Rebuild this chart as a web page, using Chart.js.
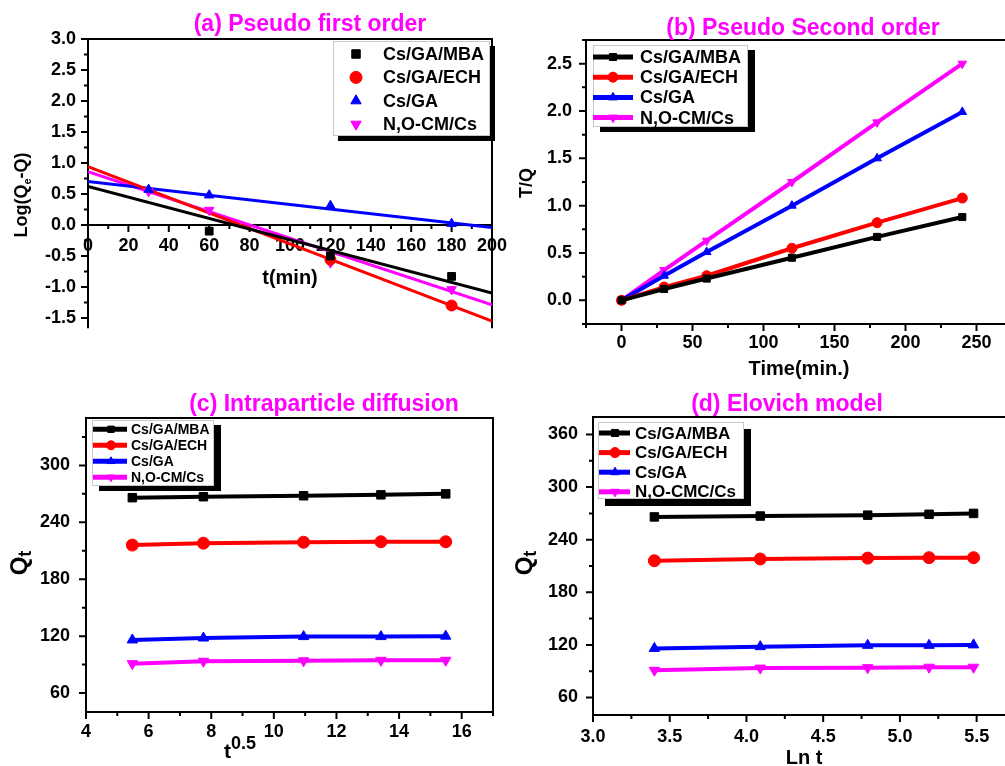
<!DOCTYPE html>
<html>
<head>
<meta charset="utf-8">
<script src="https://cdn.jsdelivr.net/npm/chart.js@4.4.1/dist/chart.umd.min.js"></script>
<style>
  html, body { margin: 0; padding: 0; background: #fff; }
  #page { position: relative; width: 1005px; height: 766px; overflow: hidden; background: #fff;
          font-family: "Liberation Sans", Arial, sans-serif; }
  .panel { position: absolute; }
  .ttl { position: absolute; transform: translate(-50%, -50%); white-space: nowrap;
         color: #ff00ff; font-weight: bold; font-size: 23px; }
</style>
</head>
<body>
<div id="page">
  <div class="panel" style="left:500px;top:0px"><canvas id="chartB"></canvas></div>
  <div class="panel" style="left:500px;top:380px"><canvas id="chartD"></canvas></div>
  <div class="panel" style="left:0px;top:0px"><canvas id="chartA"></canvas></div>
  <div class="panel" style="left:0px;top:380px"><canvas id="chartC"></canvas></div>

  <div class="ttl" style="left:310px;top:23px">(a) Pseudo first order</div>
  <div class="ttl" style="left:803px;top:27px">(b) Pseudo Second order</div>
  <div class="ttl" style="left:324px;top:403px">(c) Intraparticle diffusion</div>
  <div class="ttl" style="left:787px;top:403px">(d) Elovich model</div>
</div>

<script>
// ---- data ----
const names = ["Cs/GA/MBA", "Cs/GA/ECH", "Cs/GA", "N,O-CM/Cs"];
const namesElovich = ["Cs/GA/MBA", "Cs/GA/ECH", "Cs/GA", "N,O-CMC/Cs"];

// (a) pseudo first order, measured points
const pfoTimeMBA = [60, 120, 180];
const pfoMBA = [-0.10, -0.50, -0.83];
const pfoTimeECH = [120, 180];
const pfoECH = [-0.56, -1.30];
const pfoTimeGA = [30, 60, 120, 180];
const pfoGA = [0.57, 0.48, 0.31, 0.02];
const pfoTimeNOCM = [30, 60, 120, 180];
const pfoNOCM = [0.54, 0.24, -0.61, -1.04];
// (a) fitted lines (ends)
const pfoFitTime = [0, 200];
const pfoFitMBA = [0.62, -1.10];
const pfoFitECH = [0.94, -1.55];
const pfoFitGA = [0.70, -0.04];
const pfoFitNOCM = [0.86, -1.29];

// (b) pseudo second order
const psoTime = [0, 30, 60, 120, 180, 240];
const psoMBA = [0, 0.12, 0.23, 0.45, 0.67, 0.88];
const psoECH = [0, 0.14, 0.26, 0.55, 0.82, 1.08];
const psoGA = [0, 0.26, 0.51, 1.00, 1.50, 1.99];
const psoNOCM = [0, 0.32, 0.63, 1.25, 1.88, 2.50];

// (c) intraparticle diffusion / (d) Elovich
const sqrtTime = [5.48, 7.75, 10.95, 13.42, 15.49];
const lnTime = [3.40, 4.09, 4.79, 5.19, 5.48];
const qtMBA = [266, 267, 268, 269, 270];
const qtECH = [216, 218, 219, 219.5, 219.5];
const qtGA = [116, 118, 119.5, 119.5, 120];
const qtNOCM = [91, 93.5, 94, 94.5, 94.5];

// ticks
const ticksAx = [0, 20, 40, 60, 80, 100, 120, 140, 160, 180, 200];
const minorAx = [10, 30, 50, 70, 90, 110, 130, 150, 170, 190];
const ticksAy = [-1.5, -1.0, -0.5, 0, 0.5, 1.0, 1.5, 2.0, 2.5, 3.0];
const minorAy = [-1.25, -0.75, -0.25, 0.25, 0.75, 1.25, 1.75, 2.25, 2.75];
const ticksBx = [0, 50, 100, 150, 200, 250];
const minorBx = [-25, 25, 75, 125, 175, 225, 275];
const ticksBy = [0, 0.5, 1.0, 1.5, 2.0, 2.5];
const minorBy = [-0.25, 0.25, 0.75, 1.25, 1.75, 2.25, 2.75];
const ticksCx = [4, 6, 8, 10, 12, 14, 16];
const minorCx = [5, 7, 9, 11, 13, 15, 17];
const ticksCy = [60, 120, 180, 240, 300];
const minorCy = [90, 150, 210, 270, 330];
const ticksDx = [3.0, 3.5, 4.0, 4.5, 5.0, 5.5];
const minorDx = [3.25, 3.75, 4.25, 4.75, 5.25, 5.75];
const ticksDy = [60, 120, 180, 240, 300, 360];
const minorDy = [90, 150, 210, 270, 330];

// ---- styles ----
const FONT = '"Liberation Sans", Arial, sans-serif';
const colors = ["#000000", "#ff0000", "#0000ff", "#ff00ff"];
const shapes = ["rect", "circle", "triangle", "triangle"];
const turns = [0, 0, 0, 180];

const pts = (xs, ys) => xs.map((x, i) => ({ x, y: ys[i] }));

function marker(ctx, style, rot, r, x, y, color) {
  ctx.save();
  ctx.fillStyle = color;
  ctx.strokeStyle = color;
  ctx.lineWidth = 1;
  ctx.beginPath();
  if (style === "rect") {
    const s = r * Math.SQRT1_2;
    ctx.rect(x - s, y - s, 2 * s, 2 * s);
  } else if (style === "circle") {
    ctx.arc(x, y, r, 0, Math.PI * 2);
  } else {
    let a = rot * Math.PI / 180;
    for (let k = 0; k < 3; k++) {
      const px = x + Math.sin(a) * r, py = y - Math.cos(a) * r;
      if (k) ctx.lineTo(px, py); else ctx.moveTo(px, py);
      a += 2 * Math.PI / 3;
    }
    ctx.closePath();
  }
  ctx.fill();
  ctx.stroke();
  ctx.restore();
}

function richText(ctx, parts, cx, cy, rotate) {
  ctx.save();
  ctx.translate(cx, cy);
  if (rotate) ctx.rotate(-Math.PI / 2);
  ctx.fillStyle = "#000";
  ctx.textAlign = "left";
  ctx.textBaseline = "middle";
  let total = 0;
  parts.forEach(p => {
    ctx.font = `bold ${p.size}px ${FONT}`;
    p.w = ctx.measureText(p.text).width;
    total += p.w;
  });
  let x = -total / 2;
  parts.forEach(p => {
    ctx.font = `bold ${p.size}px ${FONT}`;
    ctx.fillText(p.text, x, p.dy || 0);
    x += p.w;
  });
  ctx.restore();
}

// frame, ticks, axis titles, boxed legend
const decor = {
  id: "decor",
  beforeDatasetsDraw(chart, args, o) {
    const ctx = chart.ctx, a = chart.chartArea, xs = chart.scales.x, ys = chart.scales.y;
    const xLine = o.xAt == null ? a.bottom : ys.getPixelForValue(o.xAt);
    ctx.save();
    ctx.strokeStyle = "#000";
    ctx.lineWidth = 2;
    ctx.lineCap = "square";
    ctx.beginPath();
    ctx.moveTo(a.left, a.top); ctx.lineTo(a.right, a.top);
    ctx.moveTo(a.right, a.top); ctx.lineTo(a.right, a.bottom);
    ctx.moveTo(a.left, a.top); ctx.lineTo(a.left, a.bottom);
    if (o.bottom) { ctx.moveTo(a.left, a.bottom); ctx.lineTo(a.right, a.bottom); }
    ctx.moveTo(a.left, xLine); ctx.lineTo(a.right, xLine);
    ctx.stroke();
    ctx.lineCap = "butt";
    ctx.beginPath();
    const tick = (vals, len, vertical) => vals.forEach(v => {
      if (vertical) {
        const p = ys.getPixelForValue(v);
        ctx.moveTo(a.left, p); ctx.lineTo(a.left - len, p);
      } else {
        const p = xs.getPixelForValue(v);
        ctx.moveTo(p, xLine); ctx.lineTo(p, xLine + len);
      }
    });
    tick(o.xMajor, 7, false);
    tick(o.xMinor, 4, false);
    tick(o.yMajor, 7, true);
    tick(o.yMinor, 4, true);
    ctx.stroke();
    ctx.restore();
  },
  afterDraw(chart, args, o) {
    const ctx = chart.ctx;
    const ox = o.ox, oy = o.oy;
    o.titles.forEach(t => richText(ctx, t.parts, t.x - ox, t.y - oy, t.rotate));
    const L = o.legend;
    ctx.save();
    ctx.fillStyle = "#000";
    ctx.fillRect(L.x - ox + L.sx, L.y - oy + L.sy, L.w, L.h);
    ctx.fillStyle = "#fff";
    ctx.fillRect(L.x - ox, L.y - oy, L.w, L.h);
    ctx.strokeStyle = "#c8c8c8";
    ctx.lineWidth = 1;
    ctx.strokeRect(L.x - ox + 0.5, L.y - oy + 0.5, L.w - 1, L.h - 1);
    const items = chart.data.datasets.filter(d => d.inLegend);
    items.forEach((d, i) => {
      const cy = L.row0 + i * L.rowH - oy;
      if (L.line0 != null) {
        ctx.strokeStyle = d.borderColor;
        ctx.lineWidth = L.lineW;
        ctx.beginPath();
        ctx.moveTo(L.line0 - ox, cy);
        ctx.lineTo(L.line1 - ox, cy);
        ctx.stroke();
      }
      marker(ctx, d.pointStyle, d.pointRotation || 0, L.markR, L.markX - ox, cy, d.pointBackgroundColor);
      ctx.fillStyle = "#000";
      ctx.font = `bold ${L.font}px ${FONT}`;
      ctx.textAlign = "left";
      ctx.textBaseline = "middle";
      ctx.fillText(L.labels[i], L.textX - ox, cy + 1);
    });
    ctx.restore();
  }
};

function buildChart(id, g, o) {
  const cv = document.getElementById(id);
  cv.width = g.cw;
  cv.height = g.ch;
  const floating = o.xAt != null;
  const tickFont = { family: FONT, size: o.tickSize, weight: "bold" };
  return new Chart(cv, {
    type: "scatter",
    data: { datasets: o.datasets },
    options: {
      responsive: false,
      animation: false,
      devicePixelRatio: 1,
      layout: {
        padding: {
          left: 0,
          top: g.top - g.cy,
          right: g.cx + g.cw - g.right,
          bottom: floating ? g.cy + g.ch - g.bottom : 0
        }
      },
      plugins: {
        legend: { display: false },
        tooltip: { enabled: false },
        decor: Object.assign({ ox: g.cx, oy: g.cy }, o.decor, { xAt: o.xAt })
      },
      scales: {
        x: {
          type: "linear",
          min: o.xMin, max: o.xMax,
          position: floating ? { y: o.xAt } : "bottom",
          grid: { display: false, drawTicks: false },
          border: { display: false },
          ticks: { font: tickFont, color: "#000", padding: o.xPad, autoSkip: false,
                   maxRotation: 0, minRotation: 0, callback: o.xFmt },
          afterBuildTicks: s => { s.ticks = o.decor.xMajor.map(v => ({ value: v })); },
          afterFit: s => { s.height = floating ? 0 : g.cy + g.ch - g.bottom; }
        },
        y: {
          type: "linear",
          min: o.yMin, max: o.yMax,
          grid: { display: false, drawTicks: false },
          border: { display: false },
          ticks: { font: tickFont, color: "#000", padding: o.yPad, autoSkip: false, callback: o.yFmt },
          afterBuildTicks: s => { s.ticks = o.decor.yMajor.map(v => ({ value: v })); },
          afterFit: s => { s.width = g.left - g.cx; }
        }
      }
    },
    plugins: [decor]
  });
}

function lineSets(xs, ySeries, labels, radius, width) {
  return ySeries.map((ys, i) => ({
    label: labels[i],
    data: pts(xs, ys),
    showLine: true,
    borderColor: colors[i],
    borderWidth: width,
    pointStyle: shapes[i],
    pointRotation: turns[i],
    pointRadius: radius,
    pointBackgroundColor: colors[i],
    pointBorderColor: colors[i],
    pointBorderWidth: 1,
    inLegend: true
  }));
}

const fix1 = v => Number(v).toFixed(1);
const int0 = v => String(Math.round(v));

// ---- (a) ----
const pfoPointT = [pfoTimeMBA, pfoTimeECH, pfoTimeGA, pfoTimeNOCM];
const pfoPointY = [pfoMBA, pfoECH, pfoGA, pfoNOCM];
const pfoFits = [pfoFitMBA, pfoFitECH, pfoFitGA, pfoFitNOCM];
const setsA = pfoPointY.map((ys, i) => ({
  label: names[i],
  data: pts(pfoPointT[i], ys),
  showLine: false,
  borderColor: colors[i],
  pointStyle: shapes[i],
  pointRotation: turns[i],
  pointRadius: 5.5,
  pointBackgroundColor: colors[i],
  pointBorderColor: colors[i],
  pointBorderWidth: 1,
  inLegend: true
})).concat(pfoFits.map((ys, i) => ({
  data: pts(pfoFitTime, ys),
  showLine: true,
  borderColor: colors[i],
  borderWidth: 3,
  pointRadius: 0
})));

buildChart("chartA",
  { cx: 0, cy: 0, cw: 530, ch: 350, left: 88, top: 39, right: 492, bottom: 328 },
  {
    datasets: setsA, xMin: 0, xMax: 200, yMin: -1.65, yMax: 3.0, xAt: 0,
    tickSize: 18, xPad: 10, yPad: 12, xFmt: int0, yFmt: fix1,
    decor: {
      xMajor: ticksAx, xMinor: minorAx, yMajor: ticksAy, yMinor: minorAy,
      titles: [
        { x: 22, y: 195, rotate: true, parts: [{ text: "Log(Q", size: 18 }, { text: "e", size: 11, dy: 6 }, { text: "-Q)", size: 18 }] },
        { x: 290, y: 278, parts: [{ text: "t(min)", size: 20 }] }
      ],
      legend: { x: 333, y: 41, w: 157, h: 95, sx: 5, sy: 5, row0: 54, rowH: 23.4, markX: 356, markR: 6,
                textX: 383, font: 18, line0: null, labels: names }
    }
  });

// ---- (b) ----
buildChart("chartB",
  { cx: 500, cy: 0, cw: 540, ch: 380, left: 586, top: 40, right: 1012, bottom: 324 },
  {
    datasets: lineSets(psoTime, [psoMBA, psoECH, psoGA, psoNOCM], names, 5, 4),
    xMin: -25, xMax: 275, yMin: -0.25, yMax: 2.75,
    tickSize: 18, xPad: 8, yPad: 14, xFmt: int0, yFmt: fix1,
    decor: {
      bottom: true,
      xMajor: ticksBx, xMinor: minorBx, yMajor: ticksBy, yMinor: minorBy,
      titles: [
        { x: 527, y: 183, rotate: true, parts: [{ text: "T/Q", size: 18 }] },
        { x: 799, y: 369, parts: [{ text: "Time(min.)", size: 20 }] }
      ],
      legend: { x: 593, y: 45, w: 155, h: 82, sx: 7, sy: 5, row0: 57, rowH: 20.2, markX: 613, markR: 5,
                line0: 593, line1: 633, lineW: 5, textX: 640, font: 18, labels: names }
    }
  });

// ---- (c) ----
buildChart("chartC",
  { cx: 0, cy: 380, cw: 520, ch: 386, left: 86, top: 418, right: 493, bottom: 712 },
  {
    datasets: lineSets(sqrtTime, [qtMBA, qtECH, qtGA, qtNOCM], names, 6, 4),
    xMin: 4, xMax: 17, yMin: 40, yMax: 350,
    tickSize: 18, xPad: 9, yPad: 16, xFmt: int0, yFmt: int0,
    decor: {
      bottom: true,
      xMajor: ticksCx, xMinor: minorCx, yMajor: ticksCy, yMinor: minorCy,
      titles: [
        { x: 20, y: 563, rotate: true, parts: [{ text: "Q", size: 24 }, { text: "t", size: 18, dy: 6 }] },
        { x: 240, y: 752, parts: [{ text: "t", size: 21 }, { text: "0.5", size: 18, dy: -8 }] }
      ],
      legend: { x: 92, y: 420, w: 122, h: 66, sx: 7, sy: 5, row0: 429.3, rowH: 16, markX: 111, markR: 4.5,
                line0: 93, line1: 127, lineW: 5, textX: 131, font: 14, labels: names }
    }
  });

// ---- (d) ----
buildChart("chartD",
  { cx: 500, cy: 380, cw: 540, ch: 386, left: 593, top: 417, right: 1015, bottom: 715 },
  {
    datasets: lineSets(lnTime, [qtMBA, qtECH, qtGA, qtNOCM], namesElovich, 6, 4),
    xMin: 3.0, xMax: 5.75, yMin: 40, yMax: 380,
    tickSize: 18, xPad: 11, yPad: 15, xFmt: fix1, yFmt: int0,
    decor: {
      bottom: true,
      xMajor: ticksDx, xMinor: minorDx, yMajor: ticksDy, yMinor: minorDy,
      titles: [
        { x: 525, y: 563, rotate: true, parts: [{ text: "Q", size: 24 }, { text: "t", size: 18, dy: 6 }] },
        { x: 804, y: 758, parts: [{ text: "Ln t", size: 20 }] }
      ],
      legend: { x: 598, y: 422, w: 146, h: 77, sx: 7, sy: 7, row0: 433, rowH: 19.6, markX: 615, markR: 5,
                line0: 599, line1: 630, lineW: 5, textX: 635, font: 17, labels: namesElovich }
    }
  });
</script>
</body>
</html>
